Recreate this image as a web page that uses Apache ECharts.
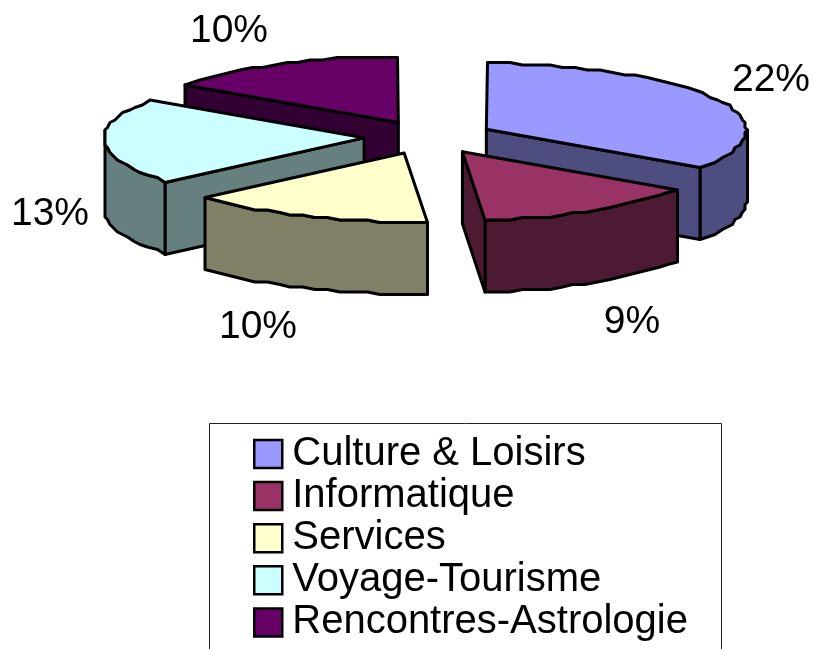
<!DOCTYPE html>
<html><head><meta charset="utf-8">
<style>html,body{margin:0;padding:0;background:#fff}#c{width:814px;height:649px}</style>
<script src="https://cdn.jsdelivr.net/npm/echarts@6/dist/echarts.min.js"></script>
</head><body><div id="c"></div>
<script>
const categories = ['Culture & Loisirs','Informatique','Services','Voyage-Tourisme','Rencontres-Astrologie'];
const values = [22, 9, 10, 13, 10];
const labels = ['22%','9%','10%','13%','10%'];
const topColors = ['#9999FF','#993366','#FFFFCC','#CCFFFF','#660066'];
const wallColors = ['#4D4D80','#4D1A33','#808066','#668080','#330033'];
const paintOrder = [2,5,4,3,1]; // z for each slice, back to front
const labelAt = [[771,80],[632,322],[258,327],[50,214],[229,31]];

const CX=429, CY=137, RX=260, RY_BACK=66, RY_FRONT=69, DEPTH=72, EXPLODE=0.25, GRID=2.5, SHAPE=1.05;
const total = values.reduce((a,b)=>a+b,0);
const startDeg = values.map((v,i)=>values.slice(0,i).reduce((a,b)=>a+b,0)/total*360);

function ell(deg,k,p){const t=deg*Math.PI/180,s=Math.sin(t),c=Math.cos(t);
  return [RX*k*Math.sign(s)*Math.pow(Math.abs(s),p),-(c>0?RY_BACK:RY_FRONT)*k*c];}
function snap(p){return [Math.round(p[0]/GRID)*GRID,Math.round(p[1]/GRID)*GRID];}

function renderSlice(i){
  return function(params,api){
    const sweep=api.value(0)/total*360, a0=startDeg[i];
    const off=ell(a0+sweep/2,EXPLODE,1);
    const apex=[CX+off[0],CY+off[1]];
    const n=Math.max(2,Math.round(sweep/3));
    const arc=[];
    for(let k=0;k<=n;k++){const e=ell(a0+sweep*k/n,1,SHAPE);
      arc.push(snap([apex[0]+e[0],apex[1]+e[1]]));}
    const ring=[apex].concat(arc);
    const style={stroke:'#000',lineWidth:3,lineJoin:'round',fill:wallColors[i]};
    const children=[];
    const down=p=>[p[0],p[1]+DEPTH];
    // walls facing the viewer: every run of edges that travels leftwards on screen
    let run=[];
    const flush=()=>{ if(run.length>1){
        children.push({type:'polygon',shape:{points:run.concat(run.slice().reverse().map(down))},style});}
      run=[];};
    for(let k=0;k<ring.length;k++){
      const a=ring[k],b=ring[(k+1)%ring.length];
      const isCut=(k===0||k===ring.length-1);
      const dx=b[0]-a[0];
      if(dx<-0.01){
        if(isCut) flush();
        if(!run.length) run.push(a);
        run.push(b);
        if(isCut) flush();
      } else if(Math.abs(dx)<=0.01 && run.length && !isCut) run.push(b);
      else flush();
    }
    flush();
    children.push({type:'polygon',shape:{points:ring},
      style:{stroke:'#000',lineWidth:3,lineJoin:'round',fill:topColors[i]}});
    children.push({type:'text',style:{text:labels[i],x:labelAt[i][0],y:labelAt[i][1],
      align:'center',verticalAlign:'middle',fill:'#000',
      font:'39px "Liberation Sans", Arial, sans-serif'}});
    return {type:'group',children};
  };
}

const chart=echarts.init(document.getElementById('c'),null,{renderer:'canvas'});
chart.setOption({
  animation:false,
  backgroundColor:'#fff',
  graphic:[{type:'rect',z:0,shape:{x:209.5,y:423.5,width:512,height:300},
    style:{fill:'#fff',stroke:'#222',lineWidth:1}}],
  legend:{
    data:categories, orient:'vertical', left:253, top:434, padding:0,
    icon:'rect', itemWidth:28, itemHeight:28, itemGap:2.1,
    selectedMode:false, z:5,
    itemStyle:{borderColor:'#000',borderWidth:2.5},
    textStyle:{fontFamily:'"Liberation Sans", Arial, sans-serif',fontSize:40,lineHeight:36,color:'#000',padding:[0,0,0,5]}
  },
  series:categories.map((name,i)=>({
    type:'custom',name,coordinateSystem:'none',z:2+paintOrder[i],
    itemStyle:{color:topColors[i]},
    silent:true,
    renderItem:renderSlice(i),
    data:[[values[i]]]
  }))
});
</script></body></html>
